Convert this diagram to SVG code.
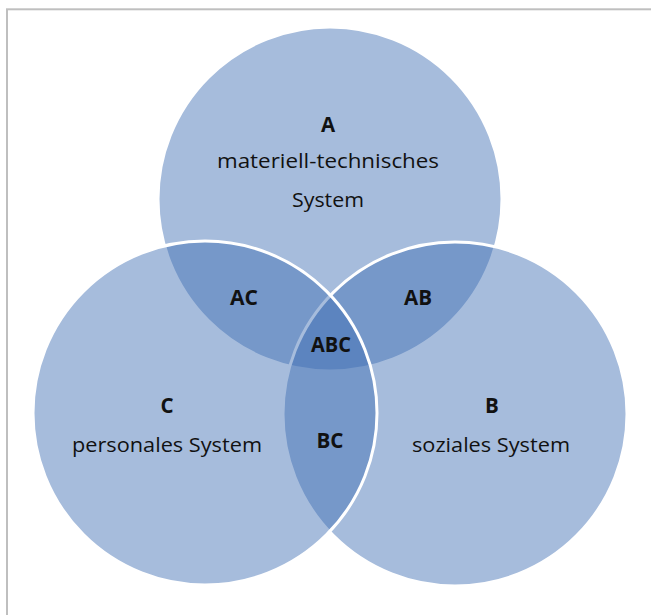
<svg xmlns="http://www.w3.org/2000/svg" width="651" height="615" viewBox="0 0 651 615">
<style>
.set{fill:#3C6EB2;fill-opacity:0.46;stroke:#FFFFFF;stroke-width:3}
.t{font-family:"Open Sans","Noto Sans","Liberation Sans",sans-serif;font-size:19.5px;fill:#111111;text-anchor:middle}
.b{font-weight:bold;font-size:20.5px}
</style>
<rect x="0" y="0" width="651" height="615" fill="#FFFFFF"/>
<rect x="7" y="9.3" width="700" height="700" fill="none" stroke="#BFBFBF" stroke-width="2"/>
<g id="A"><circle class="set" cx="330" cy="199" r="172"/></g>
<g id="B"><circle class="set" cx="455" cy="414" r="172"/></g>
<g id="C"><circle class="set" cx="205" cy="413" r="172"/></g>
<g id="connectors"/>
<g id="label-A">
<text class="t b" x="328" y="132">A</text>
<text class="t" x="328" y="168" textLength="222" lengthAdjust="spacingAndGlyphs">materiell-technisches</text>
<text class="t" x="328" y="207" textLength="72" lengthAdjust="spacingAndGlyphs">System</text>
</g>
<g id="label-B">
<text class="t b" x="492" y="413">B</text>
<text class="t" x="491" y="452" textLength="158" lengthAdjust="spacingAndGlyphs">soziales System</text>
</g>
<g id="label-C">
<text class="t b" x="167" y="413">C</text>
<text class="t" x="167" y="452" textLength="190" lengthAdjust="spacingAndGlyphs">personales System</text>
</g>
<g id="AC"><text class="t b" x="244" y="305" textLength="28" lengthAdjust="spacingAndGlyphs">AC</text></g>
<g id="AB"><text class="t b" x="418" y="305" textLength="28" lengthAdjust="spacingAndGlyphs">AB</text></g>
<g id="ABC"><text class="t b" x="331" y="352" textLength="40" lengthAdjust="spacingAndGlyphs">ABC</text></g>
<g id="BC"><text class="t b" x="330" y="448" textLength="27" lengthAdjust="spacingAndGlyphs">BC</text></g>
</svg>
